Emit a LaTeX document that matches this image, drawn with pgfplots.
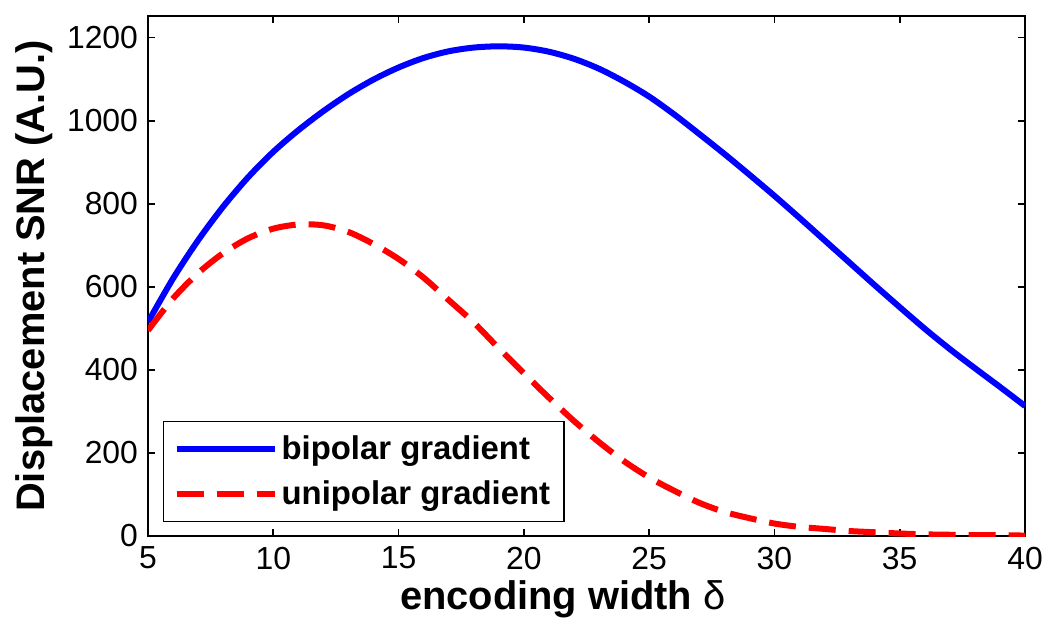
\documentclass[border=0pt]{standalone}
\usepackage{fontspec}
\setmainfont{Liberation Sans}
\usepackage{pgfplots}
\pgfplotsset{compat=1.18}
\usepackage{pgfplotstable}

% bipolar gradient
\pgfplotstableread{
x y
5 515
6 620
7 712
8 793
9 864
10 925
11 977
12 1023
13 1064
14 1099
15 1128
16 1151
17 1167
18 1176
19 1179
20 1176
21 1166
22 1149
23 1125
24 1094
25 1058
26 1015
27 968
28 920
29 870
30 819
31 766
32 712
33 658
34 604
35 551
36 499
37 450
38 404
39 359
40 313
}\bipolar

% unipolar gradient
\pgfplotstableread{
x y
5 495
6 572
7 633
8 681
9 717
10 740
11 750
12 748
13 732
14 703
15 667
16 622
17 568
18 514
19 452
20 392
21 333
22 277
23 226
24 180
25 141
26 109
27 80
28 58
29 43
30 30
31 22
32 17
33 12
34 9
35 6
36 4
37 3
38 2
39 2
40 1
}\unipolar

\begin{document}
\begin{tikzpicture}
\begin{axis}[
  scale only axis,
  width=438.5bp, height=260bp,
  xmin=5, xmax=40, ymin=0, ymax=1252,
  xtick={5,10,...,40},
  ytick={0,200,...,1200},
  tick align=inside,
  major tick length=3.5bp,
  axis line style={line width=0.9bp},
  every tick/.style={black, line width=0.9bp},
  tick label style={font=\fontsize{16}{18}\selectfont},
  xticklabel style={yshift=-2bp},
  yticklabel style={xshift=-1.5bp},
  /pgf/number format/assume math mode=true,
  /pgf/number format/1000 sep={},
  xlabel={\bfseries encoding width {\mdseries δ}},
  ylabel={\bfseries Displacement SNR (A.U.)},
  every axis x label/.style={at={(axis description cs:0.473,-0.121)}, anchor=center,
    font=\fontsize{20}{23}\selectfont},
  every axis y label/.style={at={(axis description cs:-0.13,0.5)}, rotate=90, anchor=center,
    font=\fontsize{20}{23}\selectfont},
  legend style={at={(axis description cs:0.0171,0.0269)}, anchor=south west,
    draw=black, line width=0.6bp, font=\fontsize{16.5}{19}\selectfont\bfseries,
    inner xsep=5bp, inner ysep=5bp, row sep=5bp},
  legend cell align=left,
  legend image code/.code={\draw[#1] (-1bp,0bp) -- (48bp,0bp);},
]
\addplot[blue, line width=3bp, smooth] table {\bipolar};
\addlegendentry{bipolar gradient}
\addplot[red, line width=3bp, smooth, dash pattern=on 13.5bp off 6.5bp] table {\unipolar};
\addlegendentry{unipolar gradient}
\end{axis}
\pgfresetboundingbox
\path ([shift={(-74bp,-48bp)}]current axis.south west) rectangle ([shift={(12.5bp,8bp)}]current axis.north east);
\end{tikzpicture}
\end{document}
